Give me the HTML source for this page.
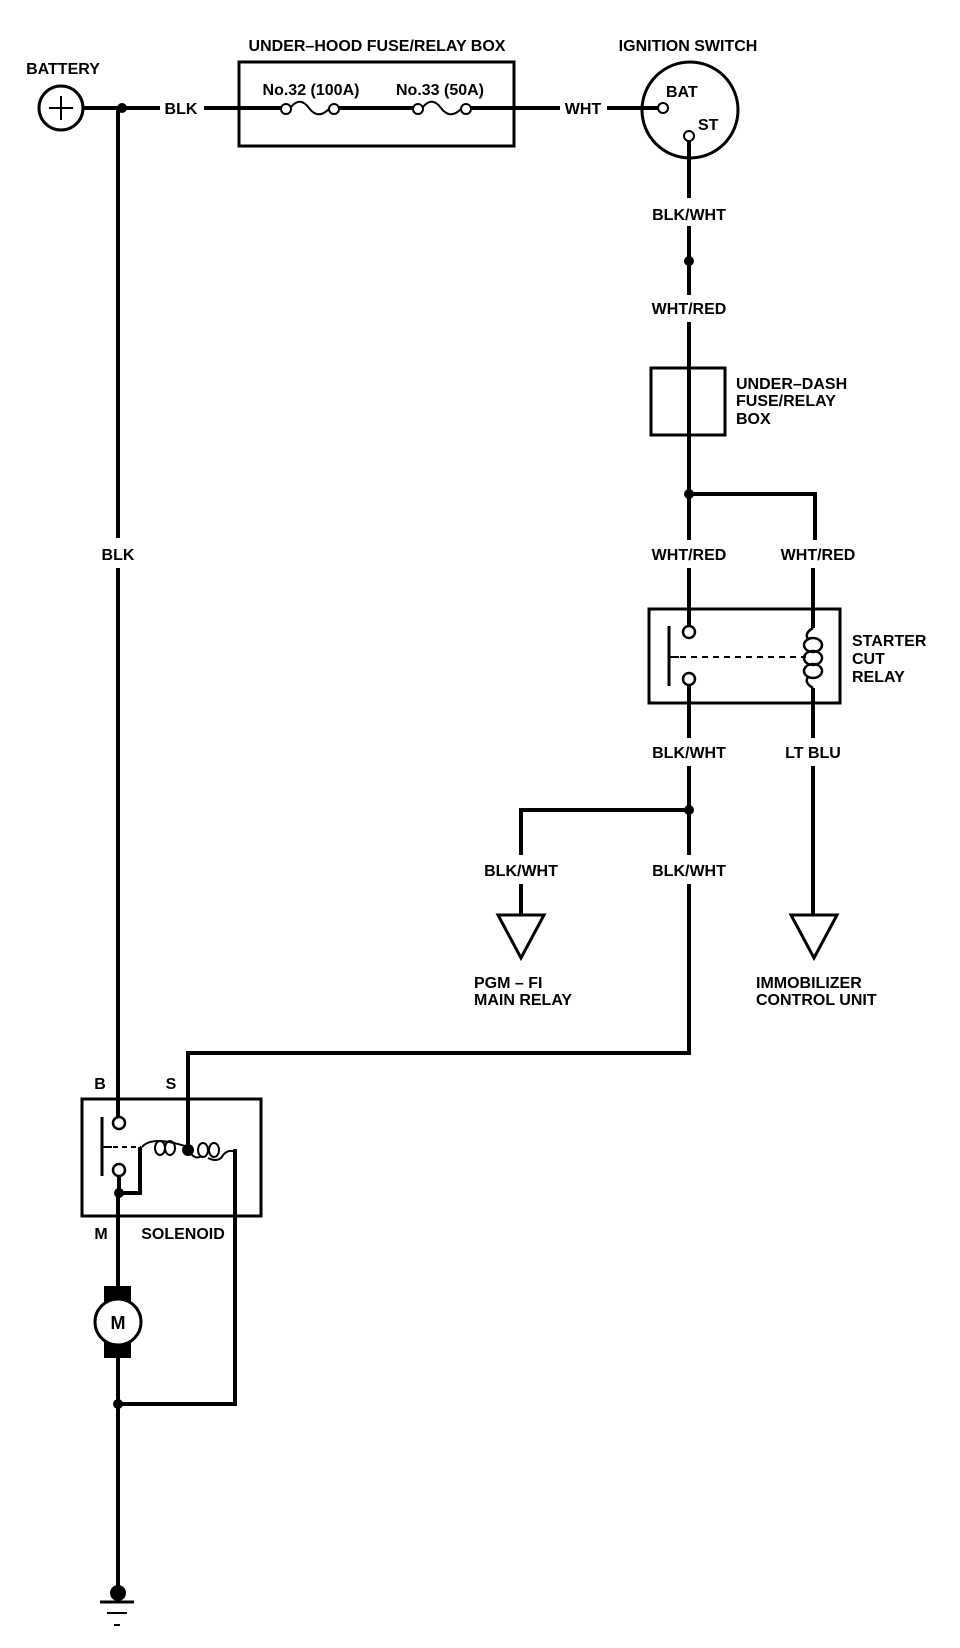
<!DOCTYPE html>
<html><head><meta charset="utf-8"><style>
html,body{margin:0;padding:0;background:#fff;}
svg{display:block;}
text{font-family:"Liberation Sans Narrow","Liberation Sans",sans-serif;font-weight:bold;font-size:16px;fill:#000;}
</style></head><body>
<svg width="960" height="1648" viewBox="0 0 960 1648" xmlns="http://www.w3.org/2000/svg">
<g stroke="#000" stroke-width="4" fill="none">
<circle cx="61" cy="108" r="22" stroke-width="3"/>
<line x1="49" y1="108" x2="73" y2="108" stroke-width="2"/>
<line x1="61" y1="96" x2="61" y2="120" stroke-width="2"/>
<line x1="83" y1="108" x2="160" y2="108"/>
<line x1="204" y1="108" x2="282" y2="108"/>
<rect x="239" y="62" width="275" height="84" stroke-width="3"/>
<circle cx="286" cy="109" r="5" stroke-width="2"/>
<path d="M291 107 Q300 96 309 108 Q318 120 329 109" stroke-width="2"/>
<circle cx="334" cy="109" r="5" stroke-width="2"/>
<line x1="339" y1="108" x2="413" y2="108"/>
<circle cx="418" cy="109" r="5" stroke-width="2"/>
<path d="M423 107 Q432 96 441 108 Q450 120 461 109" stroke-width="2"/>
<circle cx="466" cy="109" r="5" stroke-width="2"/>
<line x1="471" y1="108" x2="560" y2="108"/>
<line x1="607" y1="108" x2="658" y2="108"/>
<circle cx="690" cy="110" r="48" stroke-width="3"/>
<circle cx="663" cy="108" r="5" stroke-width="2"/>
<circle cx="689" cy="136" r="5" stroke-width="2"/>
<line x1="689" y1="141" x2="689" y2="198"/>
<line x1="689" y1="226" x2="689" y2="295"/>
<line x1="689" y1="322" x2="689" y2="540"/>
<rect x="651" y="368" width="74" height="67" stroke-width="3"/>
<polyline points="689,494 815,494 815,540"/>
<line x1="689" y1="568" x2="689" y2="627"/>
<line x1="813" y1="568" x2="813" y2="628"/>
<rect x="649" y="609" width="191" height="94" stroke-width="3"/>
<circle cx="689" cy="632" r="6" stroke-width="2.5"/>
<circle cx="689" cy="679" r="6" stroke-width="2.5"/>
<line x1="669" y1="626" x2="669" y2="686" stroke-width="3"/>
<line x1="669" y1="657" x2="679" y2="657" stroke-width="2"/>
<line x1="680" y1="657" x2="806" y2="657" stroke-width="2" stroke-dasharray="6,5"/>
<path d="M813 628 q-10 6 -4 12 M813 688 q-10 -6 -4 -12" stroke-width="2.5"/>
<ellipse cx="813" cy="645" rx="9" ry="7" stroke-width="2.5"/>
<ellipse cx="813" cy="658" rx="9" ry="7" stroke-width="2.5"/>
<ellipse cx="813" cy="671" rx="9" ry="7" stroke-width="2.5"/>
<line x1="813" y1="688" x2="813" y2="738"/>
<line x1="689" y1="685" x2="689" y2="738"/>
<line x1="689" y1="766" x2="689" y2="855"/>
<polyline points="689,810 521,810 521,855"/>
<line x1="813" y1="766" x2="813" y2="914"/>
<line x1="521" y1="884" x2="521" y2="914"/>
<polygon points="498,915 544,915 521,958" stroke-width="3"/>
<polygon points="791,915 837,915 814,958" stroke-width="3"/>
<polyline points="689,884 689,1053 188,1053 188,1147"/>
<line x1="118" y1="108" x2="118" y2="538"/>
<line x1="118" y1="568" x2="118" y2="1117"/>
<rect x="82" y="1099" width="179" height="117" stroke-width="3"/>
<circle cx="119" cy="1123" r="6" stroke-width="2.5"/>
<circle cx="119" cy="1170" r="6" stroke-width="2.5"/>
<line x1="102" y1="1117" x2="102" y2="1176" stroke-width="3"/>
<line x1="102" y1="1147" x2="112" y2="1147" stroke-width="2"/>
<line x1="113" y1="1147" x2="141" y2="1147" stroke-width="2" stroke-dasharray="5,4"/>
<ellipse cx="160" cy="1148" rx="5" ry="7" stroke-width="2"/>
<ellipse cx="170" cy="1148" rx="5" ry="7" stroke-width="2"/>
<path d="M142 1147 q10 -12 46 0" stroke-width="2"/>
<ellipse cx="203" cy="1150" rx="5" ry="7" stroke-width="2"/>
<ellipse cx="214" cy="1150" rx="5" ry="7" stroke-width="2"/>
<path d="M188 1149 q6 12 14 7 M208 1158 q8 4 13 0 q6 -10 14 -6" stroke-width="2"/>
<polyline points="119,1176 119,1193 140,1193 140,1147"/>
<polyline points="235,1149 235,1404 118,1404"/>
<line x1="118" y1="1193" x2="118" y2="1286"/>
<rect x="104" y="1286" width="27" height="19" fill="#000" stroke="none"/>
<rect x="104" y="1341" width="27" height="17" fill="#000" stroke="none"/>
<circle cx="118" cy="1322" r="23" fill="#fff" stroke-width="3"/>
<line x1="118" y1="1358" x2="118" y2="1593"/>
<line x1="100" y1="1602" x2="134" y2="1602" stroke-width="3"/>
<line x1="107" y1="1613" x2="127" y2="1613" stroke-width="2"/>
<line x1="114" y1="1625" x2="120" y2="1625" stroke-width="2"/>
</g>
<g fill="#000">
<circle cx="122" cy="108" r="5"/>
<circle cx="689" cy="261" r="5"/>
<circle cx="689" cy="494" r="5"/>
<circle cx="689" cy="810" r="5"/>
<circle cx="188" cy="1150" r="6"/>
<circle cx="119" cy="1193" r="5"/>
<circle cx="118" cy="1404" r="5"/>
<circle cx="118" cy="1593" r="8"/>
</g>
<text x="63" y="74" text-anchor="middle">BATTERY</text>
<text x="377" y="51" text-anchor="middle">UNDER–HOOD FUSE/RELAY BOX</text>
<text x="688" y="51" text-anchor="middle">IGNITION SWITCH</text>
<text x="311" y="95" text-anchor="middle">No.32 (100A)</text>
<text x="440" y="95" text-anchor="middle">No.33 (50A)</text>
<text x="181" y="114" text-anchor="middle">BLK</text>
<text x="583" y="114" text-anchor="middle">WHT</text>
<text x="666" y="97">BAT</text>
<text x="698" y="130">ST</text>
<text x="689" y="220" text-anchor="middle">BLK/WHT</text>
<text x="689" y="314" text-anchor="middle">WHT/RED</text>
<text x="736" y="389">UNDER–DASH</text>
<text x="736" y="406">FUSE/RELAY</text>
<text x="736" y="424">BOX</text>
<text x="689" y="560" text-anchor="middle">WHT/RED</text>
<text x="818" y="560" text-anchor="middle">WHT/RED</text>
<text x="852" y="646">STARTER</text>
<text x="852" y="664">CUT</text>
<text x="852" y="682">RELAY</text>
<text x="689" y="758" text-anchor="middle">BLK/WHT</text>
<text x="813" y="758" text-anchor="middle">LT BLU</text>
<text x="521" y="876" text-anchor="middle">BLK/WHT</text>
<text x="689" y="876" text-anchor="middle">BLK/WHT</text>
<text x="474" y="988">PGM – FI</text>
<text x="474" y="1005">MAIN RELAY</text>
<text x="756" y="988">IMMOBILIZER</text>
<text x="756" y="1005">CONTROL UNIT</text>
<text x="118" y="560" text-anchor="middle">BLK</text>
<text x="100" y="1089" text-anchor="middle">B</text>
<text x="171" y="1089" text-anchor="middle">S</text>
<text x="101" y="1239" text-anchor="middle">M</text>
<text x="183" y="1239" text-anchor="middle">SOLENOID</text>
<text x="118" y="1329" text-anchor="middle" style="font-size:18px">M</text>
</svg>
</body></html>
